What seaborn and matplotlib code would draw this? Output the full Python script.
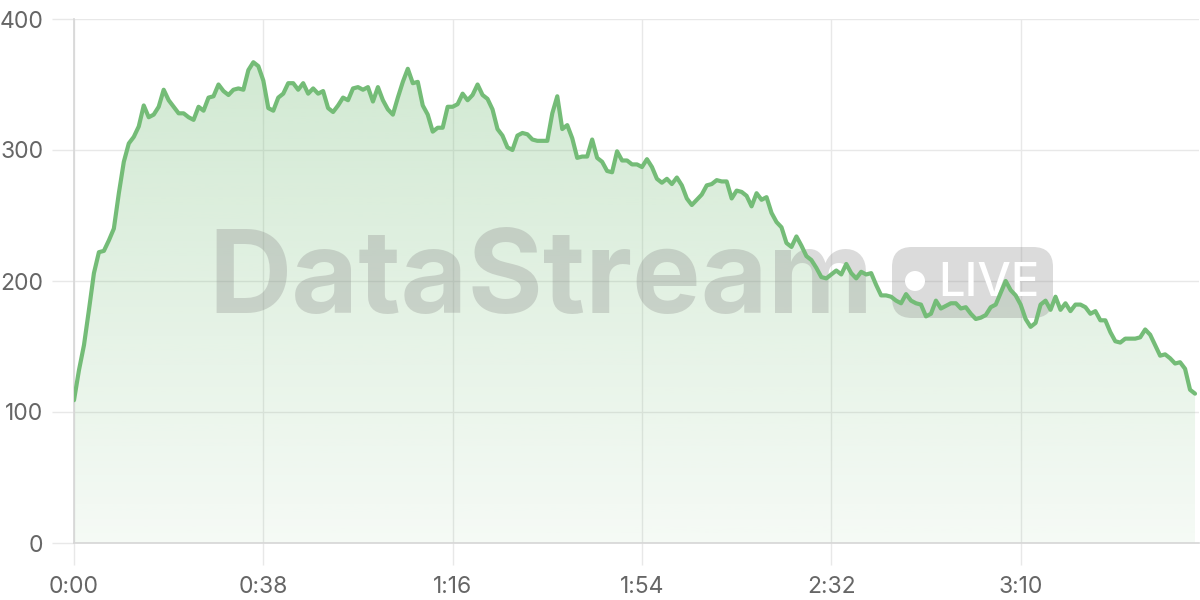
import numpy as np
import matplotlib
matplotlib.use('Agg')
import matplotlib.pyplot as plt
import seaborn as sns
from matplotlib.patches import FancyBboxPatch, Circle
from matplotlib.transforms import IdentityTransform
from matplotlib.colors import to_rgb

# viewers per second
viewers = [109, 132, 151, 178, 206, 222, 223, 231, 240, 267,
           291, 305, 310, 318, 334, 325, 327, 333, 346, 338,
           333, 328, 328, 325, 323, 333, 330, 340, 341, 350,
           345, 342, 346, 347, 346, 361, 367, 364, 353, 332,
           330, 340, 343, 351, 351, 346, 351, 343, 347, 343,
           345, 332, 329, 334, 340, 338, 347, 348, 346, 348,
           337, 348, 338, 331, 327, 340, 352, 362, 351, 352,
           334, 327, 314, 317, 317, 333, 333, 335, 343, 338,
           342, 350, 342, 339, 331, 316, 311, 302, 300, 311,
           313, 312, 308, 307, 307, 307, 328, 341, 316, 319,
           309, 294, 295, 295, 308, 294, 291, 284, 283, 299,
           292, 292, 289, 289, 287, 293, 287, 278, 275, 278,
           274, 279, 273, 263, 258, 262, 266, 273, 274, 277,
           276, 276, 263, 269, 268, 265, 257, 267, 262, 264,
           252, 245, 241, 229, 226, 234, 227, 219, 216, 210,
           203, 202, 205, 208, 205, 213, 206, 202, 207, 205,
           206, 197, 189, 189, 188, 185, 183, 190, 185, 183,
           182, 173, 175, 185, 179, 181, 183, 183, 179, 180,
           175, 171, 172, 174, 180, 182, 191, 200, 193, 189,
           182, 171, 165, 168, 182, 185, 178, 188, 178, 183,
           177, 182, 182, 180, 175, 177, 170, 170, 161, 154,
           153, 156, 156, 156, 157, 163, 159, 151, 143, 144,
           141, 137, 138, 133, 117, 114]
seconds = list(range(len(viewers)))

x_ticks = [0, 38, 76, 114, 152, 190]
x_labels = ['0:00', '0:38', '1:16', '1:54', '2:32', '3:10']
y_ticks = [0, 100, 200, 300, 400]

line_color = '#74bc77'
grid_color = '#e8e8e8'

sns.set_theme(style='white')
plt.rcParams['font.family'] = ['Inter', 'DejaVu Sans']

fig = plt.figure(figsize=(12, 6), dpi=100)
ax = fig.add_axes([74 / 1200, 57 / 600, 1125 / 1200, 524 / 600])

# gradient fill under the line
poly = ax.fill_between(seconds, viewers, 0, facecolor='none', edgecolor='none')
grad = np.zeros((256, 1, 4))
grad[:, :, :3] = to_rgb(line_color)
grad[:, 0, 3] = np.linspace(0.35, 0.07, 256)
im = ax.imshow(grad, aspect='auto', origin='upper',
               extent=[seconds[0], seconds[-1], 0, 400], zorder=1)
im.set_clip_path(poly.get_paths()[0], ax.transData)

sns.lineplot(x=seconds, y=viewers, ax=ax, color=line_color,
             linewidth=3.0, zorder=4)

# watermark
pix = IdentityTransform()
ax.text(208, 600 - 313, 'DataStream', transform=pix, fontsize=83,
        fontweight='bold', color='#888888', alpha=0.3,
        ha='left', va='baseline', zorder=2)
badge = FancyBboxPatch((892, 600 - 318), 161, 71,
                       boxstyle='round,pad=0,rounding_size=20',
                       transform=pix, facecolor='#888888', alpha=0.3,
                       edgecolor='none', zorder=2)
ax.add_artist(badge)
ax.add_artist(Circle((915, 600 - 281), 10, transform=pix,
                     facecolor='white', edgecolor='none', zorder=3))
ax.text(938, 600 - 296, 'LIVE', transform=pix, fontsize=34,
        fontweight='medium', color='white', ha='left', va='baseline',
        zorder=3)

ax.set_xlim(0, 225.8)
ax.set_ylim(0, 400)
ax.set_xticks(x_ticks)
ax.set_xticklabels(x_labels)
ax.set_yticks(y_ticks)
ax.set_xlabel('')
ax.set_ylabel('')

ax.grid(True, color=grid_color, linewidth=1)
ax.set_axisbelow(True)
for side in ['top', 'right']:
    ax.spines[side].set_visible(False)
for side in ['left', 'bottom']:
    ax.spines[side].set_color('#d6d6d6')
    ax.spines[side].set_linewidth(1.2)
ax.tick_params(axis='both', length=16, width=1, color=grid_color,
               labelsize=16.5, labelcolor='#666666')
ax.tick_params(axis='x', pad=8)
ax.tick_params(axis='y', pad=6)
ax.tick_params(left=True, bottom=True)

fig.savefig('out.png', dpi=100)
